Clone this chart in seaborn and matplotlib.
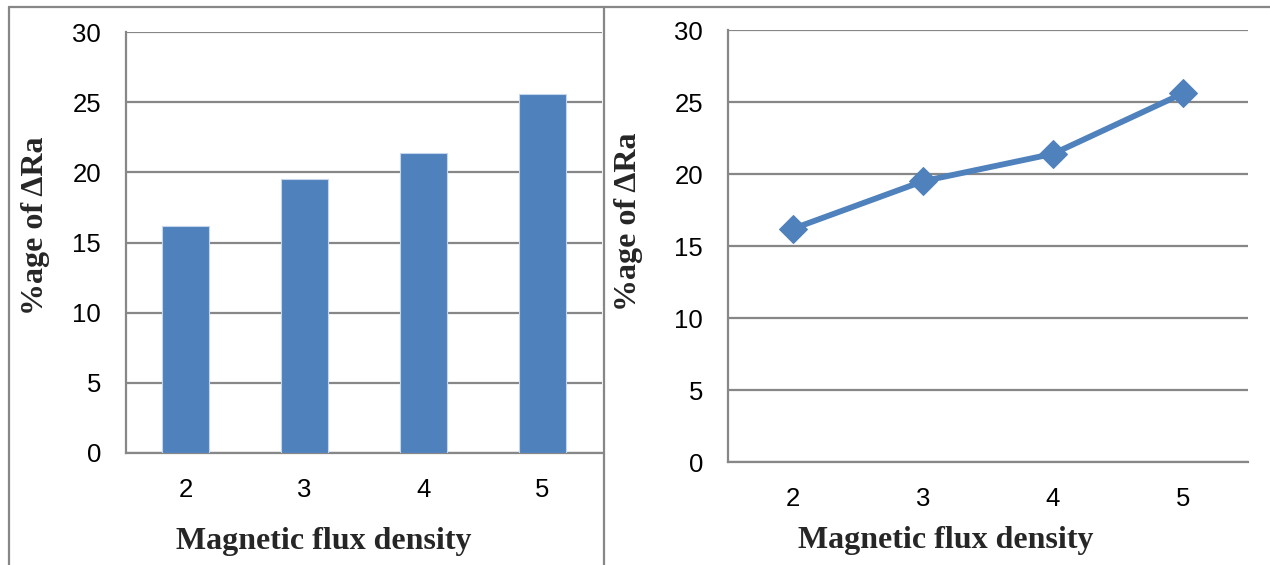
import numpy as np
import pandas as pd
import matplotlib
matplotlib.use("Agg")
import matplotlib.pyplot as plt
from matplotlib.lines import Line2D
import seaborn as sns

# Data
flux_density = ["2", "3", "4", "5"]
delta_ra_pct = [16.2, 19.5, 21.4, 25.6]
y_ticks = [0, 5, 10, 15, 20, 25, 30]

sns.set_theme(style="white")
plt.rcParams["font.family"] = ["Liberation Sans Narrow", "Liberation Sans", "DejaVu Sans"]

BLUE = "#4F81BD"
GREY = "#878787"
W, H = 1270, 565
fig = plt.figure(figsize=(W / 100, H / 100), dpi=100)


def fig_rect(x0, x1, ytop, ybot):
    return [x0 / W, 1 - ybot / H, (x1 - x0) / W, (ybot - ytop) / H]


ax1 = fig.add_axes(fig_rect(126, 602, 32, 453))
ax2 = fig.add_axes(fig_rect(728, 1248, 30, 462))

df = pd.DataFrame({"flux": flux_density, "dra": delta_ra_pct, "pos": np.arange(len(flux_density))})

sns.barplot(data=df, x="flux", y="dra", color=BLUE, saturation=1, width=0.4,
            edgecolor="#c5d5ea", linewidth=0.8, ax=ax1, zorder=3)
sns.lineplot(data=df, x="pos", y="dra", color=BLUE, linewidth=4.2, marker="D",
             markersize=14, markeredgecolor=BLUE, ax=ax2, zorder=3)

label_font = dict(family=["Liberation Serif", "DejaVu Serif"], fontweight="bold", fontsize=23)

for ax in (ax1, ax2):
    n = len(flux_density)
    ax.set_xlim(-0.5, n - 0.5)
    ax.set_ylim(0, 30)
    ax.set_yticks(y_ticks)
    ax.set_yticklabels([str(t) for t in y_ticks])
    # Category boundaries carry the tick marks; labels sit between them
    ax.set_xticks(np.arange(-0.5, n, 1.0))
    ax.set_xticklabels([])
    ax.set_xticks(np.arange(n), minor=True)
    ax.set_xticklabels(flux_density, minor=True)
    ax.tick_params(axis="x", which="major", length=5, width=1.2, color=GREY, direction="out")
    ax.tick_params(axis="x", which="minor", length=0, pad=18, labelsize=18.5, labelcolor="black")
    ax.tick_params(axis="y", length=5, width=1.2, color=GREY, direction="out", pad=13,
                   labelsize=18.5, labelcolor="black")
    ax.grid(axis="y", color=GREY, linewidth=1.6, zorder=0)
    ax.set_axisbelow(True)
    for side in ("top", "right"):
        ax.spines[side].set_visible(False)
    for side in ("left", "bottom"):
        ax.spines[side].set_color(GREY)
        ax.spines[side].set_linewidth(1.6)
    ax.set_xlabel("")
    ax.set_ylabel("")

ax1.text(-0.191, 0.54, "%age of ΔRa", transform=ax1.transAxes, rotation=90,
         ha="center", va="center", **label_font)
ax1.text(0.416, -0.211, "Magnetic flux density", transform=ax1.transAxes,
         ha="center", va="center", **label_font)
ax2.text(-0.192, 0.556, "%age of ΔRa", transform=ax2.transAxes, rotation=90,
         ha="center", va="center", **label_font)
ax2.text(0.419, -0.181, "Magnetic flux density", transform=ax2.transAxes,
         ha="center", va="center", **label_font)

# Panel frame lines
def px_line(x0, y0, x1, y1):
    fig.add_artist(Line2D([x0 / W, x1 / W], [1 - y0 / H, 1 - y1 / H],
                          transform=fig.transFigure, color=GREY, linewidth=1.6))

px_line(8.5, 6.5, 1270, 6.5)
px_line(8.5, 6.5, 8.5, 565)
px_line(603.5, 6.5, 603.5, 565)

fig.savefig("out.png", dpi=100)
